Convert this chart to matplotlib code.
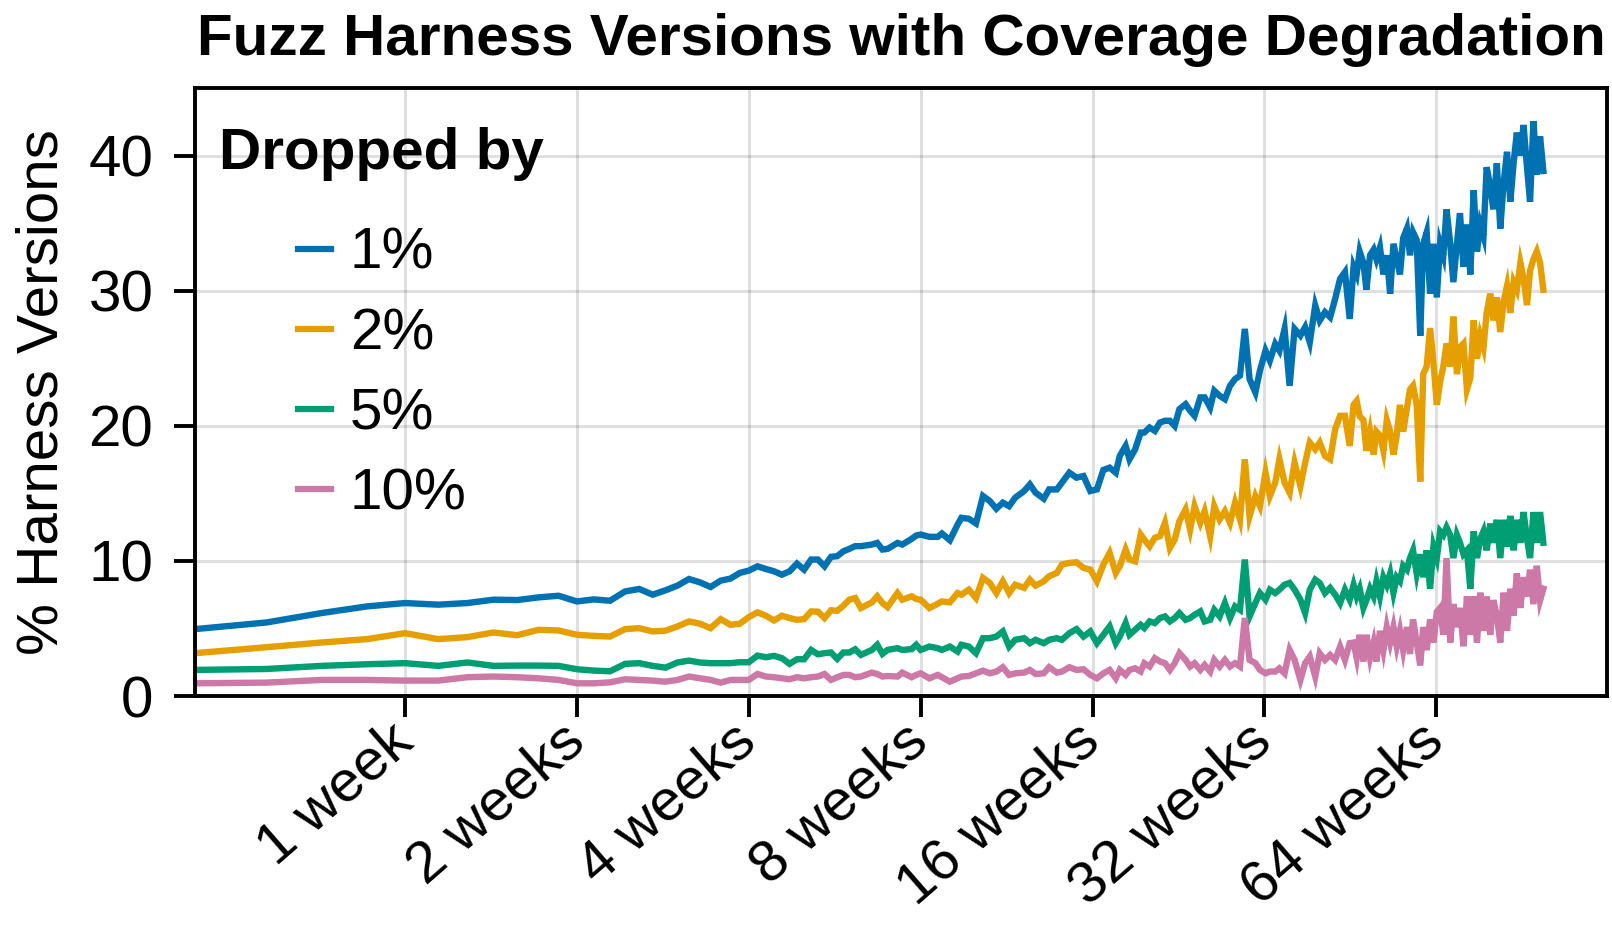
import matplotlib
matplotlib.use("Agg")
import matplotlib.pyplot as plt
from matplotlib.ticker import FixedLocator, NullLocator, FixedFormatter

# ---------------- data ----------------
days = [3, 4, 5, 6, 7, 8, 9, 10, 11, 12, 13, 14, 15, 16, 17, 18, 19, 20, 21, 22,
        23, 24, 25, 26, 27, 28, 29, 30, 31, 32, 33, 34, 35, 36, 37, 38, 39, 40, 41, 42, 43,
        44, 46, 47, 48, 49, 51, 52, 54, 55, 56, 58, 60, 61, 63, 65, 66, 68, 70, 72, 74,
        76, 78, 80, 82, 85, 87, 89, 92, 94, 97, 99, 102, 105, 108, 111, 114, 117, 120,
        123, 125, 128, 130, 133, 136, 138, 141, 144, 147, 150, 153, 156, 159, 163, 166,
        169, 173, 176, 180, 183, 187, 191, 195, 199, 203, 207, 211, 216, 220, 225, 229,
        234, 238, 243, 248, 253, 259, 264, 269, 275, 280, 286, 292, 298, 304, 310, 316,
        321, 325, 329, 334, 338, 343, 348, 352, 357, 362, 367, 372, 377, 382, 387, 392,
        398, 403, 408, 414, 420, 425, 431, 437, 443, 449, 455, 461, 467, 474, 480, 487,
        493, 500, 507, 514, 521, 528, 535, 542, 549, 557, 564, 572, 580, 588, 596, 604,
        612, 620, 629, 637, 646, 654, 663, 672, 681, 690]

drop_1pct = [4.95, 5.44, 6.14, 6.63, 6.88, 6.76, 6.88, 7.13, 7.10,
             7.30, 7.42, 7.00, 7.15, 7.05, 7.74, 7.92, 7.50, 7.82, 8.17,
             8.66, 8.41, 8.07, 8.54, 8.69, 9.11, 9.28, 9.60, 9.40, 9.23,
             8.98, 9.23, 9.80, 9.35, 10.10, 10.10, 9.60, 10.30, 10.35, 10.71,
             10.89, 11.09,
             11.09, 11.21, 11.33, 10.84, 10.89, 11.33, 11.21, 11.63, 11.88, 11.95,
             11.78, 11.78, 12.03, 11.53, 12.69, 13.19, 13.12, 12.77, 14.80, 14.43,
             13.86, 14.31, 14.05, 14.68, 15.17, 15.66, 15.05, 14.60, 15.29, 15.29,
             15.79, 16.53, 16.16, 16.28, 15.17, 15.29, 16.73, 16.90,
             16.53, 17.77, 18.51, 17.52, 18.26, 19.50, 19.50, 19.87, 19.62, 20.24,
             20.37, 20.37, 19.99, 21.23, 21.60, 21.11, 20.74, 22.10, 22.10, 21.36,
             22.59, 22.22, 21.97, 22.96, 23.46, 23.71, 27.17, 23.46, 22.47, 24.08,
             25.56, 24.82, 26.06, 25.56, 27.17, 22.96, 27.17, 26.68, 27.30, 26.18,
             28.90, 27.79, 28.41, 28.04, 29.40, 30.88, 31.38, 27.91,
             31.77, 31.20, 32.90, 32.05, 30.07, 32.62, 33.04, 32.33, 33.19, 31.20,
             32.62, 29.78, 33.47, 32.33, 31.20, 33.89, 34.60, 32.62, 34.32, 33.75,
             26.66, 33.47, 34.32, 29.78, 33.47, 29.50, 33.47, 32.62, 36.02, 33.47,
             30.63, 33.47, 35.74, 31.77, 34.89, 31.20, 37.44, 32.90, 34.89, 34.04,
             39.14, 37.72, 36.02, 39.43, 34.60, 38.01, 40.28, 36.59, 39.43, 41.70,
             40.00, 42.26, 39.14, 36.59, 42.55, 38.58, 41.41, 38.86]

drop_2pct = [3.17, 3.61, 3.96, 4.21, 4.65, 4.21, 4.36, 4.70, 4.50,
             4.90, 4.85, 4.53, 4.45, 4.40, 4.95, 5.02, 4.78, 4.83, 5.15,
             5.52, 5.35, 5.02, 5.69, 5.27, 5.35, 5.84, 6.19, 5.94, 5.59,
             5.94, 5.77, 5.64, 5.69, 6.26, 6.24, 5.77, 6.34, 6.31, 6.68,
             7.13, 7.25,
             6.51, 6.93, 7.38, 6.88, 6.58, 7.62, 7.13, 7.38, 7.18, 7.13,
             6.51, 6.83, 7.00, 6.93, 7.62, 7.50, 7.87, 7.25, 8.74, 8.37,
             7.62, 8.49, 7.62, 8.24, 8.00, 8.61, 8.17, 8.49, 8.86, 9.11,
             9.73, 9.85, 9.90, 9.48, 9.35, 8.49, 9.73, 10.59,
             9.11, 9.60, 10.84, 10.10, 9.97, 11.95, 11.58, 11.08, 11.71, 11.83,
             12.82, 10.96, 11.58, 12.94, 13.81, 12.32, 14.05, 12.82, 13.68, 11.83,
             14.05, 13.07, 13.68, 12.82, 14.31, 13.07, 17.52, 13.31, 14.80, 14.05,
             16.53, 14.80, 15.79, 17.52, 15.79, 15.05, 17.27, 15.54, 17.27, 18.76,
             18.26, 18.76, 17.77, 17.52, 19.75, 20.74, 20.74, 18.51,
             21.55, 21.84, 20.70, 20.42, 18.15, 19.57, 17.87, 19.57, 19.28, 18.15,
             20.42, 19.57, 17.87, 19.28, 21.55, 19.57, 21.27, 22.69, 22.97, 21.55,
             15.88, 23.82, 24.39, 27.23, 24.67, 21.55, 23.26, 24.39, 26.09, 24.39,
             28.08, 23.82, 25.81, 26.09, 22.69, 23.54, 27.80, 24.96, 26.66, 25.81,
             28.36, 29.78, 27.80, 29.50, 26.94, 29.21, 30.35, 28.36, 30.63, 30.07,
             32.05, 30.92, 28.93, 31.48, 32.33, 32.90, 32.05, 30.07]

drop_5pct = [1.93, 2.00, 2.23, 2.35, 2.43, 2.23, 2.48, 2.23, 2.25,
             2.25, 2.23, 1.98, 1.88, 1.83, 2.38, 2.43, 2.23, 2.10, 2.48,
             2.62, 2.48, 2.43, 2.43, 2.43, 2.50, 2.50, 2.99, 2.87, 2.97,
             2.80, 2.38, 2.72, 2.72, 3.41, 3.09, 3.17, 3.22, 2.75, 3.22,
             3.22, 3.46,
             3.04, 3.41, 3.79, 3.12, 3.41, 3.54, 3.41, 3.47, 3.79, 3.41,
             3.66, 3.54, 3.41, 3.66, 3.29, 3.79, 3.66, 3.17, 4.28, 4.28,
             4.40, 4.78, 3.66, 4.16, 4.28, 3.91, 4.16, 3.91, 4.16, 4.28,
             4.16, 4.65, 4.95, 4.40, 4.78, 3.91, 4.53, 5.15,
             3.91, 4.40, 5.40, 4.53, 4.90, 5.27, 5.03, 5.52, 5.40, 5.77,
             5.89, 5.52, 5.77, 6.14, 5.64, 5.77, 6.01, 6.26, 5.52, 5.64,
             6.38, 5.89, 6.88, 5.77, 6.63, 6.38, 10.10, 5.89, 6.88, 7.62,
             7.13, 7.87, 7.62, 7.87, 8.24, 8.37, 7.87, 7.13, 6.14, 7.87,
             8.61, 8.37, 7.62, 8.00, 7.50, 6.88, 7.87, 7.13,
             8.22, 7.37, 7.94, 6.52, 7.09, 7.94, 7.37, 8.50, 7.37, 8.79,
             8.22, 9.07, 7.65, 8.79, 8.50, 9.64, 9.35, 10.21, 10.78, 9.07,
             10.49, 8.79, 10.78, 7.94, 11.06, 10.21, 12.19, 11.91, 12.48, 11.91,
             10.21, 11.91, 11.34, 10.49, 10.78, 7.94, 12.19, 10.21, 11.63, 12.19,
             10.78, 12.76, 11.34, 13.04, 10.21, 13.04, 11.06, 13.33, 10.78, 13.04,
             11.34, 13.61, 11.63, 10.21, 13.61, 11.34, 13.61, 11.34]

drop_10pct = [0.94, 0.99, 1.19, 1.19, 1.14, 1.14, 1.39, 1.44, 1.39,
              1.31, 1.19, 0.94, 0.94, 1.01, 1.24, 1.19, 1.14, 1.06, 1.19,
              1.44, 1.31, 1.19, 0.99, 1.19, 1.19, 1.19, 1.63, 1.44, 1.39,
              1.31, 1.24, 1.39, 1.31, 1.39, 1.44, 1.63, 1.19, 1.39, 1.56,
              1.56, 1.39,
              1.44, 1.73, 1.63, 1.44, 1.48, 1.44, 1.73, 1.39, 1.56, 1.68,
              1.31, 1.56, 1.39, 1.06, 1.31, 1.44, 1.48, 1.68, 1.88, 1.68,
              1.81, 2.13, 1.56, 1.68, 1.73, 1.93, 1.63, 1.68, 2.13, 1.73,
              1.81, 2.13, 1.93, 1.98, 1.56, 1.31, 1.68, 1.93,
              1.31, 1.93, 1.56, 1.93, 2.05, 1.81, 2.43, 2.18, 2.80, 2.55,
              2.43, 1.93, 2.43, 3.17, 2.67, 2.18, 2.43, 1.93, 2.30, 1.81,
              2.67, 2.18, 2.67, 2.18, 2.43, 2.18, 5.77, 2.67, 2.43, 1.93,
              1.68, 1.81, 1.81, 2.05, 1.68, 3.41, 2.67, 1.19, 2.43, 2.92,
              1.43, 3.17, 2.67, 3.04, 2.67, 3.66, 2.67, 3.91,
              3.96, 2.83, 4.53, 2.55, 4.53, 2.83, 3.96, 2.55, 4.82, 3.40,
              5.10, 3.96, 5.10, 3.68, 4.82, 3.40, 5.10, 3.11, 5.67, 3.96,
              2.26, 5.10, 3.40, 5.67, 3.96, 6.23, 6.52, 4.53, 10.21, 3.96,
              6.80, 5.10, 6.52, 3.68, 7.37, 4.53, 7.37, 3.96, 7.65, 4.82,
              7.37, 4.53, 7.09, 5.95, 3.96, 7.65, 4.82, 7.94, 5.95, 9.07,
              6.52, 8.79, 7.37, 9.35, 6.80, 9.64, 7.09, 7.94]

series_labels = ["1%", "2%", "5%", "10%"]
series_colors = ["#0072B2", "#E69F00", "#009E73", "#CC79A7"]

tick_days = [7, 14, 28, 56, 112, 224, 448]
tick_labels = ["1 week", "2 weeks", "4 weeks", "8 weeks", "16 weeks", "32 weeks", "64 weeks"]
y_ticks = [0, 10, 20, 30, 40]

# ---------------- figure ----------------
FONT = ["Liberation Sans", "DejaVu Sans"]
plt.rcParams["font.family"] = FONT
FS = 42

W, H = 1612, 942
fig = plt.figure(figsize=(W / 100, H / 100), dpi=100)
L, R, T, B = 195, 1607, 88, 696
ax = fig.add_axes([L / W, 1 - B / H, (R - L) / W, (B - T) / H])

for vals, lab, col in zip([drop_1pct, drop_2pct, drop_5pct, drop_10pct], series_labels, series_colors):
    ax.plot(days, vals, color=col, lw=4.6, label=lab, solid_joinstyle="miter")

ax.set_xscale("log", base=2)
ax.set_xlim(3, 892)
ax.set_ylim(0, 45)
ax.xaxis.set_major_locator(FixedLocator(tick_days))
ax.xaxis.set_major_formatter(FixedFormatter(tick_labels))
ax.xaxis.set_minor_locator(NullLocator())
ax.yaxis.set_major_locator(FixedLocator(y_ticks))
ax.yaxis.set_minor_locator(NullLocator())

for lbl in ax.get_xticklabels():
    lbl.set_rotation(41)
    lbl.set_ha("right")
    lbl.set_va("center")
    lbl.set_rotation_mode("anchor")

ax.tick_params(axis="both", direction="out", length=15, width=2.8, labelsize=FS)
ax.tick_params(axis="x", pad=12)
ax.tick_params(axis="y", pad=15)

ax.grid(True, color="#000000", alpha=0.12, lw=2.2)
ax.set_axisbelow(True)
for s in ax.spines.values():
    s.set_linewidth(2.8)

ax.set_title("Fuzz Harness Versions with Coverage Degradation", fontsize=FS,
             fontweight="bold", pad=24)
ax.set_ylabel("% Harness Versions", fontsize=FS)
ax.yaxis.set_label_coords(-0.089, 0.5)

ax.text(0.017, 0.8914, "Dropped by", transform=ax.transAxes, fontsize=FS,
        fontweight="bold", ha="left", va="center")
leg = ax.legend(loc="upper left", bbox_to_anchor=(0.0729, 0.7714), frameon=False,
                fontsize=FS, handlelength=0.56, handletextpad=0.33, labelspacing=0.45,
                borderpad=0, borderaxespad=0)
for h in leg.get_lines():
    h.set_linewidth(4.5)

fig.savefig("out.png", dpi=100)
